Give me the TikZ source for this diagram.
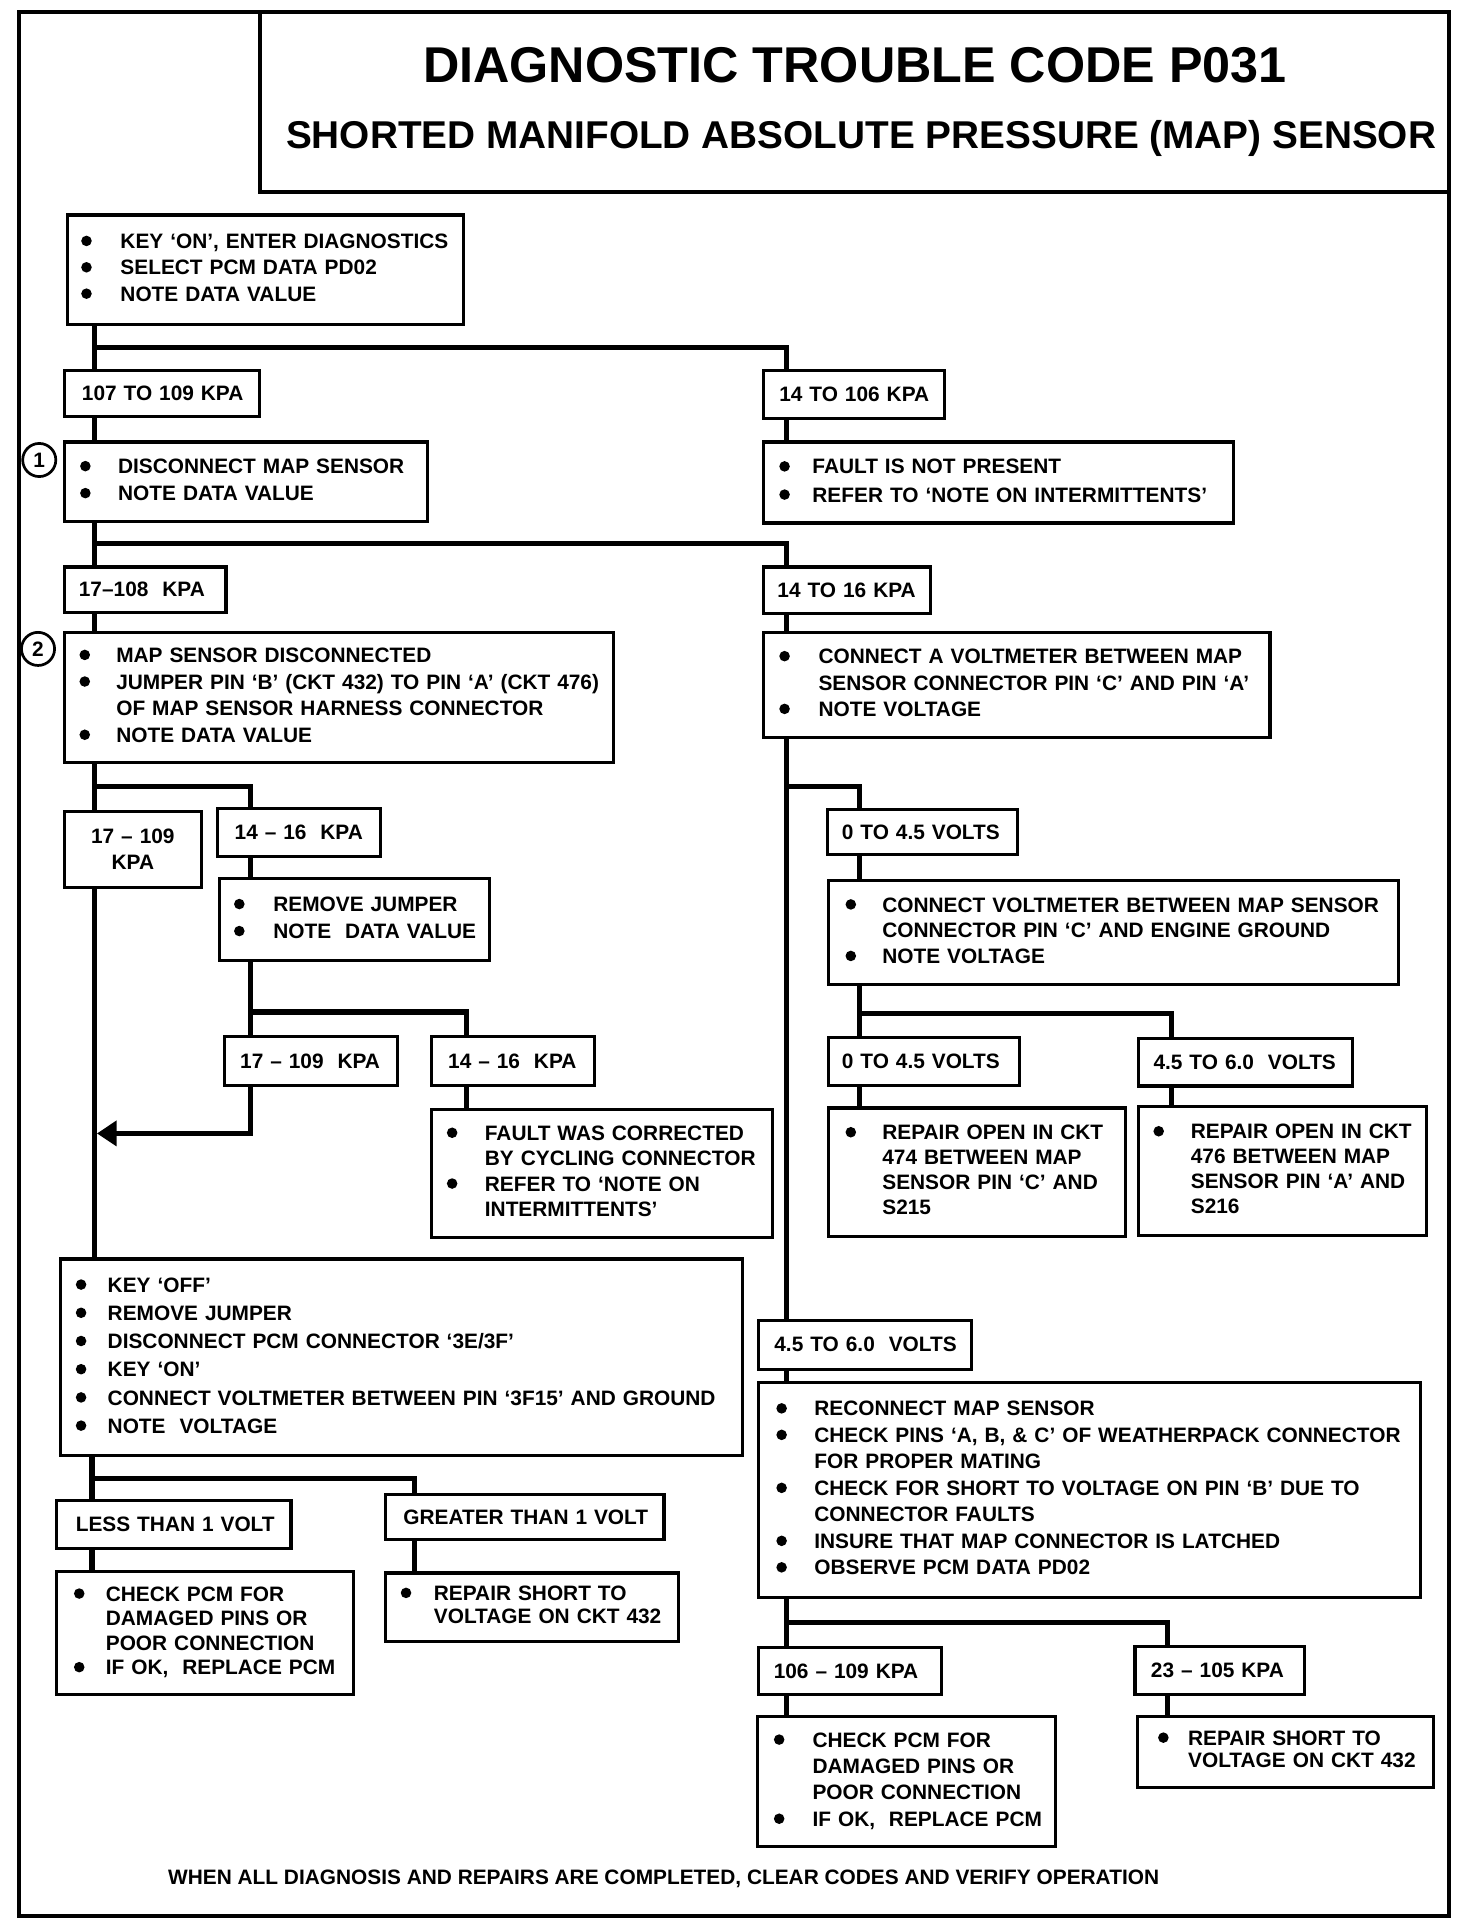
\documentclass[tikz,border=0pt]{standalone}
\usepackage{fontspec}
\setmainfont{Liberation Sans}
\usetikzlibrary{arrows.meta}
\newlength\bi
\newcommand\bu{\makebox[\bi][l]{\raisebox{1.9pt}{\tikz\fill (0,0) circle (4.3pt);}}}
\newcommand\cn{\hspace*{\bi}}
\newcommand\fs[1]{\fontsize{17}{#1}\selectfont}
\begin{document}
\begin{tikzpicture}[x=1pt,y=-1pt,
  box/.style={draw, line width=2.6pt, anchor=north west, inner sep=0pt, align=left, font=\bfseries\fs{21.5}},
  sz/.style 2 args={minimum width=#1pt, text width=#1pt, minimum height=#2pt},
  conn/.style={line width=4.2pt},
  frm/.style={draw, line width=3.2pt, anchor=north west, inner sep=0pt},
  num/.style={draw, circle, line width=2.2pt, minimum size=27pt, inner sep=0pt, font=\bfseries\fontsize{17}{17}\selectfont}]
\useasboundingbox (0,0) rectangle (1200,1563.6);

% frames and titles
\node[frm, minimum width=1166pt, minimum height=1552pt] (frame) at (14,8) {};
\node[frm, minimum width=970pt, minimum height=147pt] (tbox) at (210,8) {};
\node[font=\bfseries\fontsize{41}{41}\selectfont] (title) at (697,53) {DIAGNOSTIC TROUBLE CODE P031};
\node[font=\bfseries\fontsize{31.6}{32}\selectfont] (sub) at (702,113) {SHORTED MANIFOLD ABSOLUTE PRESSURE (MAP) SENSOR};
\node[font=\bfseries\fontsize{17}{17}\selectfont] (foot) at (541,1532) {WHEN ALL DIAGNOSIS AND REPAIRS ARE COMPLETED, CLEAR CODES AND VERIFY OPERATION};

% boxes
\node[box, sz={323}{89}] (A) at (53.6,174) {\setlength\bi{32pt}\hspace*{11.3pt}\begin{tabular}{@{}l@{}}\bu KEY `ON', ENTER DIAGNOSTICS\\ \bu SELECT PCM DATA PD02\\ \bu NOTE DATA VALUE\end{tabular}};
\node[box, sz={159}{37}] (B1) at (51,301) {\hspace*{14.5pt}107 TO 109 KPA};
\node[box, sz={148}{39}] (B2) at (621,301) {\hspace*{13pt}14 TO 106 KPA};
\node[box, sz={296}{65}] (C1) at (51,359) {\fs{22}\setlength\bi{31pt}\hspace*{13pt}\begin{tabular}{@{}l@{}}\bu DISCONNECT MAP SENSOR\\ \bu NOTE DATA VALUE\end{tabular}};
\node[box, sz={383}{66}] (C2) at (621,359) {\fs{23}\setlength\bi{27pt}\hspace*{13pt}\begin{tabular}{@{}l@{}}\bu FAULT IS NOT PRESENT\\ \bu REFER TO `NOTE ON INTERMITTENTS'\end{tabular}};
\node[box, sz={132}{37}] (D1) at (51,461) {\hspace*{12pt}17--108\ \ KPA};
\node[box, sz={136}{38}] (D2) at (621,461) {\hspace*{11.5pt}14 TO 16 KPA};
\node[box, sz={448}{106}] (E1) at (51,514) {\fs{21.7}\setlength\bi{30pt}\hspace*{12.5pt}\begin{tabular}{@{}l@{}}\bu MAP SENSOR DISCONNECTED\\ \bu JUMPER PIN `B' (CKT 432) TO PIN `A' (CKT 476)\\ \cn OF MAP SENSOR HARNESS CONNECTOR\\ \bu NOTE DATA VALUE\end{tabular}};
\node[box, sz={413}{86}] (E2) at (621,514) {\fs{21.5}\setlength\bi{32pt}\hspace*{13pt}\begin{tabular}{@{}l@{}}\bu CONNECT A VOLTMETER BETWEEN MAP\\ \cn SENSOR CONNECTOR PIN `C' AND PIN `A'\\ \bu NOTE VOLTAGE\end{tabular}};
\node[box, sz={112}{62}, align=center] (F1) at (51,660) {\fs{22}17 -- 109\\KPA};
\node[box, sz={133}{39}] (F2) at (176,658) {\hspace*{14pt}14 -- 16\ \ KPA};
\node[box, sz={220}{67}] (H) at (177.5,715) {\fs{22}\setlength\bi{32pt}\hspace*{12pt}\begin{tabular}{@{}l@{}}\bu REMOVE JUMPER\\ \bu NOTE\ \ DATA VALUE\end{tabular}};
\node[box, sz={141}{40}] (I1) at (182,843.6) {\hspace*{12.5pt}17 -- 109\ \ KPA};
\node[box, sz={133}{40}] (I2) at (350.6,843.6) {\hspace*{13.5pt}14 -- 16\ \ KPA};
\node[box, sz={278}{104.5}] (J) at (350.6,903) {\fs{20.7}\setlength\bi{31pt}\hspace*{12.4pt}\begin{tabular}{@{}l@{}}\bu FAULT WAS CORRECTED\\ \cn BY CYCLING CONNECTOR\\ \bu REFER TO `NOTE ON\\ \cn INTERMITTENTS'\end{tabular}};
\node[box, sz={155}{37}] (K1) at (673,658.6) {\hspace*{12pt}0 TO 4.5 VOLTS};
\node[box, sz={465}{85}] (L) at (674,716.5) {\fs{21}\setlength\bi{30pt}\hspace*{14pt}\begin{tabular}{@{}l@{}}\bu CONNECT VOLTMETER BETWEEN MAP SENSOR\\ \cn CONNECTOR PIN `C' AND ENGINE GROUND\\ \bu NOTE VOLTAGE\end{tabular}};
\node[box, sz={155.6}{39}] (M1) at (674,844.5) {\hspace*{11pt}0 TO 4.5 VOLTS};
\node[box, sz={174.5}{39}] (M2) at (926.6,845) {\hspace*{12.5pt}4.5 TO 6.0\ \ VOLTS};
\node[box, sz={242}{104.6}] (N1) at (674,902) {\fs{20.3}\setlength\bi{30pt}\hspace*{14pt}\begin{tabular}{@{}l@{}}\bu REPAIR OPEN IN CKT\\ \cn 474 BETWEEN MAP\\ \cn SENSOR PIN `C' AND\\ \cn S215\end{tabular}};
\node[box, sz={235}{105}] (N2) at (926.6,901) {\fs{20.3}\setlength\bi{30.5pt}\hspace*{12.4pt}\begin{tabular}{@{}l@{}}\bu REPAIR OPEN IN CKT\\ \cn 476 BETWEEN MAP\\ \cn SENSOR PIN `A' AND\\ \cn S216\end{tabular}};
\node[box, sz={174}{40}] (O) at (617,1075) {\hspace*{13pt}4.5 TO 6.0\ \ VOLTS};
\node[box, sz={540}{175}] (P) at (617,1126) {\fs{21.6}\setlength\bi{31pt}\hspace*{14.6pt}\begin{tabular}{@{}l@{}}\bu RECONNECT MAP SENSOR\\ \bu CHECK PINS `A, B, \& C' OF WEATHERPACK CONNECTOR\\ \cn FOR PROPER MATING\\ \bu CHECK FOR SHORT TO VOLTAGE ON PIN `B' DUE TO\\ \cn CONNECTOR FAULTS\\ \bu INSURE THAT MAP CONNECTOR IS LATCHED\\ \bu OBSERVE PCM DATA PD02\end{tabular}};
\node[box, sz={149}{38}] (Q1) at (617,1342) {\hspace*{12.5pt}106 -- 109 KPA};
\node[box, sz={138}{39}] (Q2) at (924,1341) {\hspace*{13pt}23 -- 105 KPA};
\node[box, sz={243}{106}] (R) at (616,1398) {\fs{21.5}\setlength\bi{31.5pt}\hspace*{13.6pt}\begin{tabular}{@{}l@{}}\bu CHECK PCM FOR\\ \cn DAMAGED PINS OR\\ \cn POOR CONNECTION\\ \bu IF OK,\ \ REPLACE PCM\end{tabular}};
\node[box, sz={241}{58}] (S) at (926,1398) {\fs{18.5}\setlength\bi{24.5pt}\hspace*{16.8pt}\begin{tabular}{@{}l@{}}\bu REPAIR SHORT TO\\ \cn VOLTAGE ON CKT 432\end{tabular}};
\node[box, sz={556}{160}] (G) at (48,1025) {\fs{23}\setlength\bi{26pt}\hspace*{12.5pt}\begin{tabular}{@{}l@{}}\bu KEY `OFF'\\ \bu REMOVE JUMPER\\ \bu DISCONNECT PCM CONNECTOR `3E/3F'\\ \bu KEY `ON'\\ \bu CONNECT VOLTMETER BETWEEN PIN `3F15' AND GROUND\\ \bu NOTE\ \ VOLTAGE\end{tabular}};
\node[box, sz={191}{39}] (T1) at (45,1222) {\hspace*{15.5pt}LESS THAN 1 VOLT};
\node[box, sz={227}{37}] (T2) at (313,1217) {\hspace*{14.5pt}GREATER THAN 1 VOLT};
\node[box, sz={242}{100}] (U) at (45,1280) {\fs{20}\setlength\bi{26pt}\hspace*{14pt}\begin{tabular}{@{}l@{}}\bu CHECK PCM FOR\\ \cn DAMAGED PINS OR\\ \cn POOR CONNECTION\\ \bu IF OK,\ \ REPLACE PCM\end{tabular}};
\node[box, sz={239}{56}] (V) at (313,1281) {\fs{18.5}\setlength\bi{27pt}\hspace*{12.4pt}\begin{tabular}{@{}l@{}}\bu REPAIR SHORT TO\\ \cn VOLTAGE ON CKT 432\end{tabular}};

% step numbers
\node[num] (n1) at (32,375) {1};
\node[num] (n2) at (31,529) {2};

% trunk x positions
\coordinate (xL) at (77,0);
\coordinate (xG) at (75,0);
\coordinate (xR) at (641,0);
\coordinate (xH) at (204,0);
\coordinate (xJ) at (380,0);
\coordinate (xK) at (701,0);
\coordinate (xN) at (955,0);
\coordinate (xT) at (338,0);
\coordinate (xQ) at (952,0);
\coordinate (tip) at (79,924);

% connectors
\draw[conn] (A.south -| xL) -- (B1.north -| xL);
\draw[conn] (xL |- 0,283) -| (B2.north -| xR);
\draw[conn] (B1.south -| xL) -- (C1.north -| xL);
\draw[conn] (B2.south -| xR) -- (C2.north -| xR);
\draw[conn] (C1.south -| xL) -- (D1.north -| xL);
\draw[conn] (xL |- 0,443) -| (D2.north -| xR);
\draw[conn] (D1.south -| xL) -- (E1.north -| xL);
\draw[conn] (D2.south -| xR) -- (E2.north -| xR);
\draw[conn] (E1.south -| xL) -- (F1.north -| xL);
\draw[conn] (xL |- 0,641) -| (F2.north -| xH);
\draw[conn] (F1.south -| xL) -- (G.north -| xL);
\draw[conn] (F2.south -| xH) -- (H.north -| xH);
\draw[conn] (H.south -| xH) -- (I1.north -| xH);
\draw[conn] (xH |- 0,825) -| (I2.north -| xJ);
\draw[conn, -{Triangle[length=16pt,width=20pt]}] (I1.south -| xH) |- (tip);
\draw[conn] (I2.south -| xJ) -- (J.north -| xJ);
\draw[conn] (E2.south -| xR) -- (O.north -| xR);
\draw[conn] (xR |- 0,641) -| (K1.north -| xK);
\draw[conn] (K1.south -| xK) -- (L.north -| xK);
\draw[conn] (L.south -| xK) -- (M1.north -| xK);
\draw[conn] (xK |- 0,826) -| (M2.north -| xN);
\draw[conn] (M1.south -| xK) -- (N1.north -| xK);
\draw[conn] (M2.south -| xN) -- (N2.north -| xN);
\draw[conn] (O.south -| xR) -- (P.north -| xR);
\draw[conn] (P.south -| xR) -- (Q1.north -| xR);
\draw[conn] (xR |- 0,1323) -| (Q2.north -| xQ);
\draw[conn] (Q1.south -| xR) -- (R.north -| xR);
\draw[conn] (Q2.south -| xQ) -- (S.north -| xQ);
\draw[conn] (G.south -| xG) -- (T1.north -| xG);
\draw[conn] (xG |- 0,1205) -| (T2.north -| xT);
\draw[conn] (T1.south -| xG) -- (U.north -| xG);
\draw[conn] (T2.south -| xT) -- (V.north -| xT);
\end{tikzpicture}
\end{document}
